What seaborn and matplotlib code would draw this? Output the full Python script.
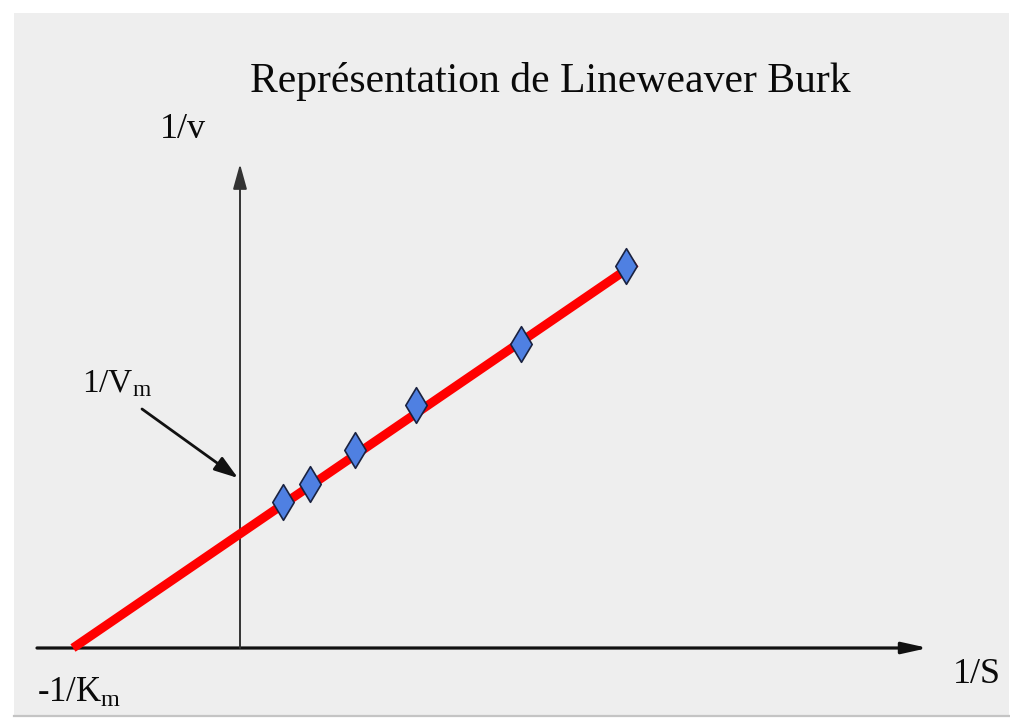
import matplotlib
matplotlib.use("Agg")
import matplotlib.pyplot as plt
import seaborn as sns
import pandas as pd

# ---- data (axis units arbitrary) ----
inv_S = [0.43, 0.70, 1.15, 1.76, 2.81, 3.86]
inv_v = [1.46, 1.64, 1.98, 2.43, 3.04, 3.82]
fit_x = [-1.67, 3.96]
fit_y = [0.00, 3.85]

title = "Représentation de Lineweaver Burk"
xlabel = "1/S"
ylabel = "1/v"
vm_label = r"1/V$_{\mathrm{m}}$"
km_label = r"-1/K$_{\mathrm{m}}$"

sns.set_style("white")
plt.rcParams["font.family"] = ["Liberation Serif", "DejaVu Serif"]
plt.rcParams["mathtext.fontset"] = "custom"
plt.rcParams["mathtext.rm"] = "Liberation Serif"
plt.rcParams["mathtext.it"] = "Liberation Serif:italic"

W, H = 1010, 721
fig = plt.figure(figsize=(W / 100, H / 100), dpi=100, facecolor="white")

# axes covering the grey panel (pixels 14..1009 x 13..716)
L, R, T, B = 14, 1009, 13, 716
ax = fig.add_axes([L / W, (H - B) / H, (R - L) / W, (B - T) / H])
ax.set_facecolor("#eeeeee")

# pixel -> data mapping: origin at pixel (240, 648), 100 px per unit
X0, Y0, S = 240, 648, 100.0
def px(x, y):
    return ((x - X0) / S, (Y0 - y) / S)

ax.set_xlim(px(L, 0)[0], px(R, 0)[0])
ax.set_ylim(px(0, B)[1], px(0, T)[1])
for s in ["top", "left", "right"]:
    ax.spines[s].set_visible(False)
ax.spines["bottom"].set_color("#c4c4c4")
ax.spines["bottom"].set_linewidth(1.6)
ax.set_xticks([])
ax.set_yticks([])

# coordinate axes drawn as arrows
ax.annotate("", xy=px(928, 648), xytext=px(37, 648),
            arrowprops=dict(arrowstyle="-|>,head_length=0.9,head_width=0.2",
                            mutation_scale=17, color="#111111", lw=2.3,
                            shrinkA=0, shrinkB=0))
ax.annotate("", xy=px(240, 164), xytext=px(240, 648),
            arrowprops=dict(arrowstyle="-|>,head_length=0.9,head_width=0.25",
                            mutation_scale=17, color="#333333", lw=1.4,
                            shrinkA=0, shrinkB=0))

# regression line and data points
df_line = pd.DataFrame({"x": fit_x, "y": fit_y})
sns.lineplot(data=df_line, x="x", y="y", ax=ax, color="#ff0000", lw=6.5,
             sort=False, solid_capstyle="butt", zorder=3)
df_pts = pd.DataFrame({"x": inv_S, "y": inv_v})
sns.scatterplot(data=df_pts, x="x", y="y", ax=ax, marker="d", s=330,
                color="#4f80e2", edgecolor="#1a2240", linewidth=1.2, zorder=4)
ax.set_xlabel("")
ax.set_ylabel("")

# annotation arrow for 1/Vm
ax.annotate("", xy=px(238, 478), xytext=px(142, 409),
            arrowprops=dict(arrowstyle="-|>,head_length=0.9,head_width=0.3",
                            mutation_scale=16, color="#111111", lw=2.0,
                            shrinkA=0, shrinkB=0))

fs = 26
ax.text(*px(550, 92), title, ha="center", va="baseline", fontsize=30, color="#0a0a0a")
ax.text(*px(160, 138), ylabel, ha="left", va="baseline", fontsize=fs, color="#0a0a0a")
ax.text(*px(953, 683), xlabel, ha="left", va="baseline", fontsize=fs, color="#0a0a0a")
ax.text(*px(82, 392), vm_label, ha="left", va="baseline", fontsize=fs - 2, color="#0a0a0a")
ax.text(*px(37, 702), km_label, ha="left", va="baseline", fontsize=fs - 1, color="#0a0a0a")

fig.savefig("out.png", dpi=100, facecolor="white")
